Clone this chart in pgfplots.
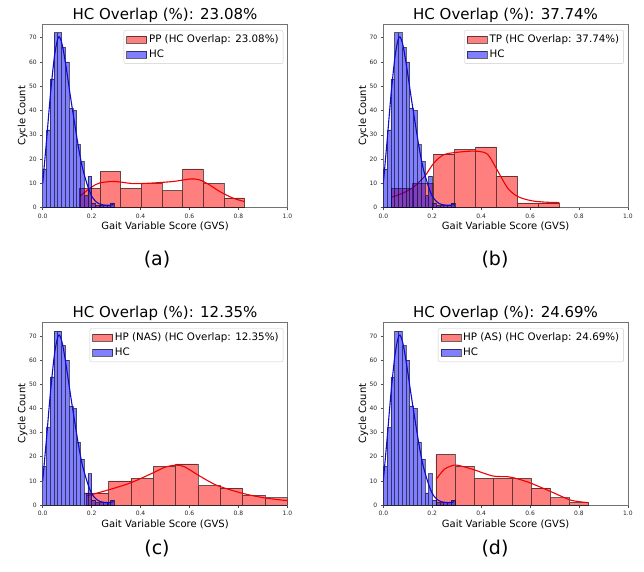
\documentclass[border=0pt]{standalone}
\usepackage{fontspec}
\setsansfont{DejaVu Sans}
\usepackage{pgfplots}
\pgfplotsset{compat=1.18}
\definecolor{kdeblue}{RGB}{10,10,210}
\definecolor{kdered}{RGB}{240,0,0}

\pgfplotstableread{
x y
0.00000 16
0.01543 32
0.03086 53
0.04629 72
0.06172 72
0.07715 66
0.09258 60
0.10801 41
0.12344 40
0.13887 26
0.15430 19
0.16973 5
0.18516 13
0.20059 2
0.21602 1
0.23145 1
0.24688 1
0.26231 1
0.27774 2
0.29317 2
}\hcbins

\pgfplotstableread{
x y
0.000 10
0.016 28
0.032 47
0.049 63
0.065 70.3
0.080 67
0.097 57
0.113 46
0.130 35
0.146 25
0.160 17.5
0.173 12.5
0.187 8
0.200 4.8
0.213 3
0.227 1.8
0.245 1.2
0.268 1
0.290 1.3
}\hckde

\pgfplotstableread{
x y
0.150 8
0.2345 15
0.319 8
0.4035 10
0.488 7
0.5725 16
0.657 10
0.7415 4
0.826 4
}\ppbins
\pgfplotstableread{
x y
0.150 4.6
0.200 8.5
0.234 10.2
0.289 10.8
0.330 10.4
0.370 9.9
0.439 10.1
0.534 10.8
0.602 11.8
0.640 11.5
0.680 9.5
0.725 6.6
0.779 3.9
0.826 2.5
}\ppkde

\pgfplotstableread{
x y
0.0340 8
0.1199 10
0.2058 22
0.2917 24
0.3776 25
0.4635 13
0.5494 2
0.6353 2
0.7212 2
}\tpbins
\pgfplotstableread{
x y
0.0355 4.4
0.080 6
0.122 8.4
0.169 12.9
0.207 18.4
0.250 21.9
0.332 23.1
0.387 23.2
0.427 21.9
0.465 15.6
0.509 8
0.550 4.6
0.604 2.9
0.660 2.3
0.720 2.1
}\tpkde

\pgfplotstableread{
x y
0.178 5
0.2693 10
0.3607 11
0.4520 16
0.5433 17
0.6347 8
0.7260 7
0.8173 4
0.9087 3
1.0000 3
}\nasbins
\pgfplotstableread{
x y
0.178 3.7
0.267 6.2
0.360 9.2
0.451 13.3
0.499 15.6
0.545 16.5
0.580 15.8
0.635 12.4
0.690 9.2
0.726 7.6
0.818 4.8
0.910 2.9
1.000 1.8
}\naskde

\pgfplotstableread{
x y
0.215 21
0.293 16
0.371 11
0.449 11
0.527 11
0.605 7
0.683 3
0.761 1
0.839 1
}\asbins
\pgfplotstableread{
x y
0.216 10.6
0.250 14.8
0.291 16.5
0.330 15.8
0.373 14.5
0.448 12
0.509 11.7
0.550 10.8
0.604 9
0.686 5.5
0.767 2
0.836 1
}\askde

\pgfplotsset{
  gvs/.style={
    scale only axis, width=244.6pt, height=183.7pt, anchor=south west,
    xmin=0, xmax=1, ymin=0, ymax=75.6,
    axis line style={black!55, line width=0.7pt},
    tick style={black!70, line width=0.6pt},
    major tick length=2.5pt, tick align=outside, xtick pos=bottom, ytick pos=left,
    xtick={0,0.2,0.4,0.6,0.8,1.0}, ytick={0,10,20,30,40,50,60,70},
    xticklabel style={/pgf/number format/.cd, fixed, fixed zerofill, precision=1},
    ticklabel style={font=\sffamily\fontsize{6}{7}\selectfont, text=black!85},
    /pgf/number format/assume math mode=true,
    xlabel={Gait Variable Score (GVS)}, ylabel={Cycle Count},
    label style={font=\sffamily\fontsize{10}{12}\selectfont},
    xlabel style={at={(axis description cs:0.5,0)}, anchor=base, yshift=-22pt},
    ylabel style={at={([xshift=-17.3pt]axis description cs:0,0.5)}, anchor=base},
    title style={at={(axis description cs:0.5,1)}, anchor=base, yshift=-1.5pt, font=\sffamily\fontsize{15}{18}\selectfont},
    legend style={at={(0.9836,0.9673)}, anchor=north east, draw=black!20, rounded corners=2pt,
      font=\sffamily\fontsize{10.3}{12}\selectfont, inner xsep=2.5pt, inner ysep=2.5pt, row sep=2pt,
      nodes={inner sep=2pt}},
    legend cell align=left,
  },
  redbar/.style={ybar interval, fill=red, fill opacity=0.5, draw=black, draw opacity=0.6, line width=0.6pt, forget plot},
  bluebar/.style={ybar interval, fill=blue, fill opacity=0.5, draw=black, draw opacity=0.6, line width=0.6pt, forget plot},
  redpatch/.style={legend image code/.code={\draw[sharp corners, fill=red, fill opacity=0.5, draw=black, draw opacity=0.6, line width=0.6pt] (0pt,-3.5pt) rectangle (20pt,3.5pt);}},
  bluepatch/.style={legend image code/.code={\draw[sharp corners, fill=blue, fill opacity=0.5, draw=black, draw opacity=0.6, line width=0.6pt] (0pt,-3.5pt) rectangle (20pt,3.5pt);}},
  redkde/.style={kdered, line width=1.1pt, smooth, forget plot, mark=none},
  bluekde/.style={kdeblue, line width=1.1pt, smooth, forget plot, mark=none},
}

\begin{document}
\begin{tikzpicture}
\path[use as bounding box] (0pt,0pt) rectangle (644pt,571pt);

\begin{axis}[gvs, at={(42.7pt,363.3pt)}, title={HC Overlap (\%): 23.08\%}]
\addplot[redbar] table {\ppbins};
\addplot[redkde] table {\ppkde};
\addplot[bluebar] table {\hcbins};
\addplot[bluekde] table {\hckde};
\addlegendimage{redpatch}
\addlegendentry{PP (HC Overlap: 23.08\%)}
\addlegendimage{bluepatch}
\addlegendentry{HC}
\end{axis}

\begin{axis}[gvs, at={(383.3pt,363.3pt)}, title={HC Overlap (\%): 37.74\%}]
\addplot[redbar] table {\tpbins};
\addplot[redkde] table {\tpkde};
\addplot[bluebar] table {\hcbins};
\addplot[bluekde] table {\hckde};
\addlegendimage{redpatch}
\addlegendentry{TP (HC Overlap: 37.74\%)}
\addlegendimage{bluepatch}
\addlegendentry{HC}
\end{axis}

\begin{axis}[gvs, at={(42.7pt,66pt)}, height=182.7pt, title={HC Overlap (\%): 12.35\%}]
\addplot[redbar] table {\nasbins};
\addplot[redkde] table {\naskde};
\addplot[bluebar] table {\hcbins};
\addplot[bluekde] table {\hckde};
\addlegendimage{redpatch}
\addlegendentry{HP (NAS) (HC Overlap: 12.35\%)}
\addlegendimage{bluepatch}
\addlegendentry{HC}
\end{axis}

\begin{axis}[gvs, at={(383.3pt,66pt)}, height=182.7pt, title={HC Overlap (\%): 24.69\%}]
\addplot[redbar] table {\asbins};
\addplot[redkde] table {\askde};
\addplot[bluebar] table {\hcbins};
\addplot[bluekde] table {\hckde};
\addlegendimage{redpatch}
\addlegendentry{HP (AS) (HC Overlap: 24.69\%)}
\addlegendimage{bluepatch}
\addlegendentry{HC}
\end{axis}

\node[font=\sffamily\fontsize{19}{22}\selectfont] at (157pt,311pt) {(a)};
\node[font=\sffamily\fontsize{19}{22}\selectfont] at (495pt,311pt) {(b)};
\node[font=\sffamily\fontsize{19}{22}\selectfont] at (157pt,22pt) {(c)};
\node[font=\sffamily\fontsize{19}{22}\selectfont] at (495pt,22pt) {(d)};
\end{tikzpicture}
\end{document}
